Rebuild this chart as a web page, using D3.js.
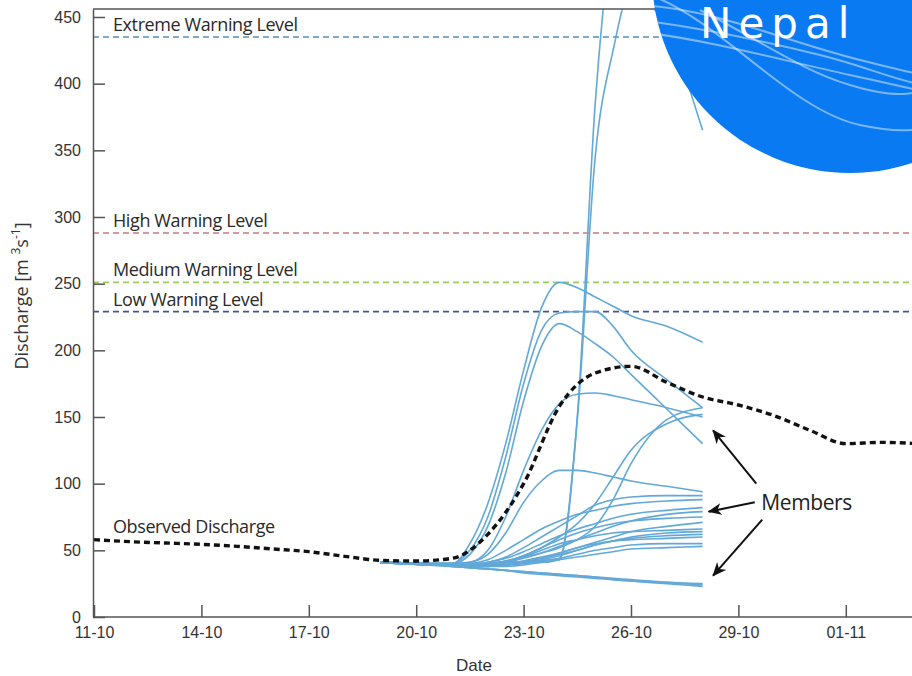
<!DOCTYPE html>
<html>
<head>
<meta charset="utf-8">
<script src="https://cdn.jsdelivr.net/npm/d3@7"></script>
<style>
  body { margin: 0; background: #fff; }
  svg { display: block; }
</style>
</head>
<body>
<div id="grafica"></div>
<script>
  // Caudal observado (diario)
  const obsDates = ["11-10", "12-10", "13-10", "14-10", "15-10", "16-10", "17-10", "18-10", "19-10", "20-10",
    "21-10", "22-10", "23-10", "24-10", "25-10", "26-10", "27-10", "28-10", "29-10", "30-10",
    "31-10", "01-11", "02-11", "03-11", "04-11"];
  const obsValues = [58, 56.5, 55.5, 54.5, 53, 51, 49, 45.5, 42.5, 42,
    44, 62, 100, 158, 183, 188, 176, 165, 159, 151,
    140, 130, 131, 130, 128];

  // Miembros del ensemble (pronostico)
  const memberTimes = ["19-10 00", "21-10 00", "21-10 12", "22-10 00", "22-10 12", "23-10 00", "23-10 12",
    "24-10 00", "24-10 12", "25-10 00", "25-10 12", "26-10 00", "27-10 00", "28-10 00"];
  const members = [
    [41, 40, 40, 40, 41, 41, 41, 43, 150, 385, 525, 610, 640, 600],
    [41, 40, 40, 40, 41, 41, 42, 44, 148, 345, 425, 470, 440, 365],
    [41, 40, 55, 85, 130, 185, 232, 251, 247, 240, 233, 226, 218, 206],
    [41, 40, 50, 75, 120, 175, 215, 228, 229, 229, 218, 200, 178, 157],
    [41, 40, 47, 68, 108, 162, 203, 220, 214, 205, 195, 182, 156, 130],
    [41, 40, 41, 50, 75, 110, 140, 160, 167, 168, 166, 163, 157, 150],
    [41, 40, 41, 47, 63, 86, 102, 110, 110, 108, 105, 102, 98, 94],
    [41, 39, 39, 40, 42, 45, 48, 52, 58, 68, 88, 115, 148, 157],
    [41, 39, 39, 40, 42, 46, 52, 60, 70, 85, 105, 125, 145, 152],
    [41, 39, 40, 43, 50, 58, 66, 72, 77, 80, 83, 85, 87, 88],
    [41, 39, 39, 41, 44, 49, 55, 61, 66, 70, 74, 77, 80, 82],
    [41, 39, 39, 40, 41, 44, 48, 53, 58, 63, 68, 72, 77, 79],
    [41, 39, 39, 40, 42, 46, 52, 58, 63, 67, 70, 72, 74, 75],
    [41, 39, 38, 39, 40, 42, 45, 48, 52, 56, 60, 64, 68, 71],
    [41, 39, 38, 39, 40, 42, 44, 47, 50, 54, 57, 60, 63, 64],
    [41, 39, 38, 38, 39, 41, 44, 48, 52, 55, 57, 58, 59, 60],
    [41, 39, 38, 38, 39, 40, 42, 44, 47, 50, 52, 54, 55, 55],
    [41, 39, 38, 38, 38, 39, 41, 43, 45, 47, 49, 51, 52, 53],
    [41, 38, 37, 36, 35, 34, 33, 32, 31, 30, 29, 28, 26, 25],
    [41, 38, 37, 36, 35, 33, 32, 31, 30, 29, 28, 27, 25, 23],
    [41, 38, 37, 36, 35, 34, 33, 32, 31, 30, 28, 27, 26, 24],
    [41, 39, 38, 39, 41, 45, 50, 55, 58, 61, 63, 64, 65, 66],
    [41, 39, 38, 38, 39, 41, 43, 46, 50, 54, 57, 59, 61, 62],
    [41, 39, 39, 41, 45, 52, 60, 68, 76, 84, 88, 90, 91, 91]
  ];

  // Niveles de alerta
  const levelNames = ["Extreme Warning Level", "High Warning Level", "Medium Warning Level", "Low Warning Level"];
  const levelValues = [435, 288, 251, 229];
  const levelColors = ["#5b8db6", "#c27b86", "#9ccc5a", "#3e5690"];

  const yTicks = [0, 50, 100, 150, 200, 250, 300, 350, 400, 450];
  const xTicks = ["11-10", "14-10", "17-10", "20-10", "23-10", "26-10", "29-10", "01-11", "04-11"];

  // Flechas "Members": [fecha, valor] cola -> punta
  const arrowTails = [["29-10 12", 100], ["29-10 11", 86], ["29-10 16", 73]];
  const arrowTips = [["28-10 07", 140], ["28-10 04", 79], ["28-10 07", 31]];

  const width = 912, height = 676;
  const parse = d3.utcParse("%d-%m %H");
  const fecha = s => parse(s.length > 5 ? s : s + " 00");

  const x = d3.scaleUtc()
    .domain([fecha("11-10"), fecha("07-11")])
    .range([94, 94 + 27 * 35.8]);
  const y = d3.scaleLinear().domain([0, 456]).range([617, 9]);

  const svg = d3.select("#grafica").append("svg")
    .attr("width", width)
    .attr("height", height)
    .style("font-family", "'Liberation Sans', Arial, sans-serif");

  const defs = svg.append("defs");
  defs.append("clipPath").attr("id", "plotclip")
    .append("rect").attr("x", 93).attr("y", 9).attr("width", 900).attr("height", 608);

  defs.append("marker")
    .attr("id", "flecha")
    .attr("viewBox", "0 0 14 12")
    .attr("refX", 13).attr("refY", 6)
    .attr("markerWidth", 14).attr("markerHeight", 12)
    .attr("markerUnits", "userSpaceOnUse")
    .attr("orient", "auto")
    .append("path")
    .attr("d", "M0,0 L14,6 L0,12 L4,6 Z")
    .attr("fill", "#111");

  const plot = svg.append("g").attr("clip-path", "url(#plotclip)");

  // Lineas de alerta
  plot.selectAll(".nivel")
    .data(levelValues)
    .enter()
    .append("line")
    .attr("class", "nivel")
    .attr("x1", 93).attr("x2", width)
    .attr("y1", d => y(d)).attr("y2", d => y(d))
    .attr("stroke", (d, i) => levelColors[i])
    .attr("stroke-width", 1.6)
    .attr("stroke-dasharray", "6,4");

  // Miembros
  const memberDates = memberTimes.map(fecha);
  const linea = d3.line()
    .x((d, i) => x(memberDates[i]))
    .y(d => y(d))
    .curve(d3.curveMonotoneX);

  plot.selectAll(".miembro")
    .data(members)
    .enter()
    .append("path")
    .attr("class", "miembro")
    .attr("d", linea)
    .attr("fill", "none")
    .attr("stroke", "#62a8d8")
    .attr("stroke-width", 1.6);

  // Observado
  const obsDatesP = obsDates.map(fecha);
  plot.append("path")
    .datum(obsValues)
    .attr("d", d3.line().x((d, i) => x(obsDatesP[i])).y(d => y(d)).curve(d3.curveMonotoneX))
    .attr("fill", "none")
    .attr("stroke", "#111")
    .attr("stroke-width", 3.4)
    .attr("stroke-dasharray", "6,4");

  // Ejes
  const ejeY = svg.append("g")
    .attr("transform", "translate(93,0)")
    .call(d3.axisLeft(y).tickValues(yTicks).tickSizeInner(-12).tickSizeOuter(0).tickPadding(12));
  const ejeX = svg.append("g")
    .attr("transform", "translate(0,617)")
    .call(d3.axisBottom(x).tickValues(xTicks.map(fecha)).tickFormat(d3.utcFormat("%d-%m"))
      .tickSizeInner(-12).tickSizeOuter(0).tickPadding(10));
  ejeX.select(".domain").attr("d", `M93,0H${width}`);

  [ejeY, ejeX].forEach(g => {
    g.selectAll("path, line").attr("stroke", "#555").attr("stroke-width", 1.5);
    g.selectAll("text").attr("fill", "#333").style("font-size", "16px").style("font-family", "'Liberation Sans', Arial, sans-serif");
  });
  ejeX.selectAll(".tick").filter(d => x(d) < 93 || x(d) > width).remove();

  // Marco superior
  svg.append("line")
    .attr("x1", 93).attr("x2", width)
    .attr("y1", 9).attr("y2", 9)
    .attr("stroke", "#555").attr("stroke-width", 1.5);

  // Etiquetas de niveles
  const etiqueta = "'Open Sans', 'Noto Sans', sans-serif";
  svg.selectAll(".etqnivel")
    .data(levelNames)
    .enter()
    .append("text")
    .attr("x", 113)
    .attr("y", (d, i) => y(levelValues[i]) - 6)
    .attr("fill", "#2a2a2a")
    .style("font-family", etiqueta)
    .style("font-size", "18px")
    .style("letter-spacing", "-0.4px")
    .text(d => d);

  svg.append("text")
    .attr("x", 113)
    .attr("y", y(obsValues[0]) - 7)
    .attr("fill", "#2a2a2a")
    .style("font-family", etiqueta)
    .style("font-size", "18px")
    .style("letter-spacing", "-0.4px")
    .text("Observed Discharge");

  // Flechas y texto Members
  svg.selectAll(".flecha")
    .data(arrowTails)
    .enter()
    .append("line")
    .attr("x1", d => x(fecha(d[0]))).attr("y1", d => y(d[1]))
    .attr("x2", (d, i) => x(fecha(arrowTips[i][0]))).attr("y2", (d, i) => y(arrowTips[i][1]))
    .attr("stroke", "#111")
    .attr("stroke-width", 2)
    .attr("marker-end", "url(#flecha)");

  svg.append("text")
    .attr("x", x(fecha("29-10 14")) + 2)
    .attr("y", y(80))
    .attr("fill", "#222")
    .style("font-family", etiqueta)
    .style("font-size", "21px")
    .style("letter-spacing", "-0.4px")
    .text("Members");

  // Titulos de ejes
  svg.append("text")
    .attr("x", 474).attr("y", 671)
    .attr("text-anchor", "middle")
    .attr("fill", "#333")
    .style("font-size", "17px")
    .text("Date");

  const tituloY = svg.append("text")
    .attr("transform", "translate(28,296) rotate(-90)")
    .attr("text-anchor", "middle")
    .attr("fill", "#333")
    .style("font-family", etiqueta)
    .style("font-size", "18px");
  tituloY.append("tspan").text("Discharge [m ");
  tituloY.append("tspan").attr("baseline-shift", "super").style("font-size", "12px").text("3");
  tituloY.append("tspan").text("s");
  tituloY.append("tspan").attr("baseline-shift", "super").style("font-size", "12px").text("-1");
  tituloY.append("tspan").text("]");

  // Logo circular
  const logo = svg.append("g");
  logo.append("circle")
    .attr("cx", 850).attr("cy", -25).attr("r", 198)
    .attr("fill", "#0a7af3");
  logo.append("clipPath").attr("id", "logoclip")
    .append("circle").attr("cx", 850).attr("cy", -25).attr("r", 198);
  const ondas = [
    "M640,5 C720,10 780,40 860,60 S940,80 1000,70",
    "M640,20 C700,28 760,40 820,55 S900,85 960,90",
    "M640,32 C710,40 780,60 850,75 S930,95 990,100",
    "M700,10 C760,40 800,70 850,85 S910,95 960,80",
    "M650,-5 C720,20 790,110 860,125 S930,120 990,110"
  ];
  logo.append("g").attr("clip-path", "url(#logoclip)")
    .selectAll("path")
    .data(ondas)
    .enter()
    .append("path")
    .attr("d", d => d)
    .attr("fill", "none")
    .attr("stroke", "rgba(255,255,255,0.45)")
    .attr("stroke-width", 2);
  logo.append("text")
    .attr("x", 700).attr("y", 38)
    .attr("fill", "#fff")
    .style("font-family", "'DejaVu Sans', sans-serif")
    .style("font-size", "42px")
    .style("letter-spacing", "7px")
    .text("Nepal");
</script>
</body>
</html>
